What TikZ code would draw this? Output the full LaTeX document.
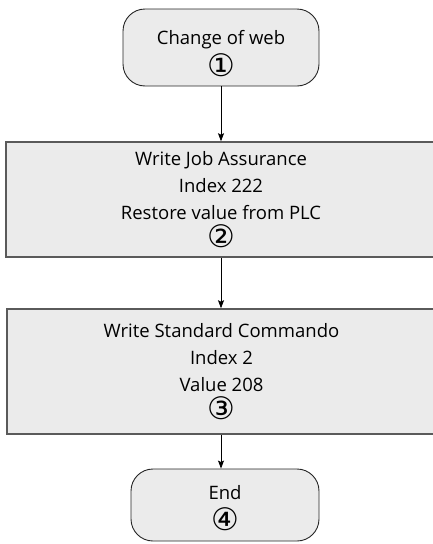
\documentclass[tikz,border=0pt]{standalone}
\usepackage{fontspec}
\setmainfont{Open Sans}
\newfontfamily\circfont{DejaVu Sans}
\usetikzlibrary{arrows.meta}
\definecolor{boxfill}{HTML}{EBEBEB}
\definecolor{boxline}{HTML}{5A5A5A}
\newcommand\boxtxt{\fontsize{18.5}{27}\selectfont}
\newcommand\circnum[1]{{\circfont\fontsize{31}{27}\selectfont #1}}
\tikzset{
  terminal/.style={draw=black!85, line width=0.9pt, fill=boxfill, rounded corners=22pt,
    align=center, inner sep=0pt, font=\boxtxt},
  process/.style={draw=boxline, line width=1.5pt, fill=boxfill,
    align=center, inner sep=0pt, font=\boxtxt},
  flow/.style={draw=black, line width=0.8pt, -{Stealth[length=8pt,width=6pt,inset=1.5pt]}}
}
\begin{document}
\begin{tikzpicture}[x=1pt,y=-1pt]
\useasboundingbox (0,0) rectangle (433,544);
\clip (0,0) rectangle (433,544);
\node[terminal, minimum width=196pt, minimum height=77pt] (s1) at (221,47.5)
  {\rule{0pt}{26pt}Change of web\\[4pt]\circnum{①}};
\node[process, minimum width=430pt, minimum height=115pt] (s2) at (221,199.5)
  {Write Job Assurance\\Index 222\\Restore value from PLC\\[1pt]\circnum{②}};
\node[process, minimum width=429pt, minimum height=125pt] (s3) at (221.5,371.5)
  {Write Standard Commando\\Index 2\\Value 208\\[1pt]\circnum{③}};
\node[terminal, minimum width=188pt, minimum height=72pt] (s4) at (225,505)
  {\rule{0pt}{21pt}End\\[4pt]\circnum{④}};
\draw[flow] (s1.south) -- (s2.north -| s1.south);
\draw[flow] (s2.south -| s1.south) -- (s3.north -| s1.south);
\draw[flow] (s3.south -| s1.south) -- (s4.north -| s1.south);
\end{tikzpicture}
\end{document}
